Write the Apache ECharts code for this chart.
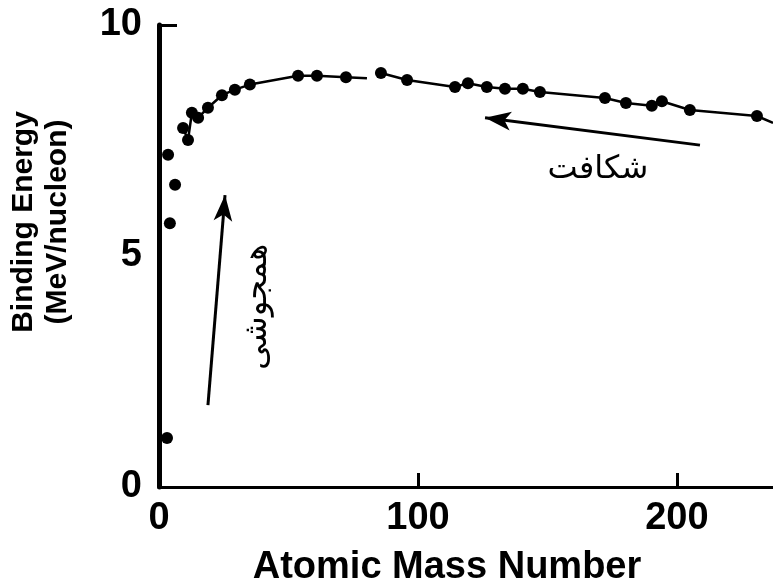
<!DOCTYPE html>
<html>
<head>
<meta charset="utf-8">
<script src="https://cdn.jsdelivr.net/npm/echarts@6/dist/echarts.min.js"></script>
<style>
  html, body { margin: 0; padding: 0; background: #fff; }
  #grafica { width: 773px; height: 588px; }
</style>
</head>
<body>
<div id="grafica"></div>
<script>
// Núcleos ligeros (puntos sueltos, sin línea)
var masaLigeros = [3.1, 4.2, 6.2, 3.5];
var energiaLigeros = [1.06, 5.71, 6.54, 7.19];

// Primer tramo de la curva
var masaCurva1 = [9.3, 11.2, 12.7, 15.1, 18.9, 24.3, 29.3, 35.1, 53.7, 61.0, 72.2];
var energiaCurva1 = [7.77, 7.51, 8.10, 7.99, 8.21, 8.48, 8.60, 8.71, 8.90, 8.90, 8.87];
var finCurva1 = [80.3, 8.85]; // la línea sigue un poco sin marcador

// Segundo tramo de la curva
var masaCurva2 = [85.7, 95.8, 114.3, 119.3, 126.6, 133.6, 140.5, 147.1, 172.2, 180.3, 190.3, 194.2, 205.0, 230.9];
var energiaCurva2 = [8.96, 8.81, 8.66, 8.74, 8.66, 8.62, 8.62, 8.55, 8.42, 8.31, 8.25, 8.35, 8.16, 8.03];
var finCurva2 = [237.1, 7.88];

// Flechas [cola, punta]
var flechaFision = [[208.9, 7.40], [125.9, 7.99]];
var flechaFusion = [[18.9, 1.77], [25.5, 6.32]];

// Textos en persa y su posición en datos
var textoFision = 'شکافت';
var posFision = [169.5, 6.86];
var textoFusion = 'همجوشی';
var posFusion = [38.2, 3.9];

// Ejes
var ticksX = [0, 100, 200];
var ticksY = [0, 5, 10];

function armarCurva(masas, energias, fin) {
  var datos = masas.map(function (a, i) {
    return [a, energias[i]];
  });
  datos.push({ value: fin, symbol: 'none' });
  return datos;
}

var fuente = '"Liberation Sans", Arial, sans-serif';
var chart = echarts.init(document.getElementById('grafica'));

var option = {
  animation: false,
  backgroundColor: '#fff',
  grid: { left: 159, right: 0, top: 25, bottom: 101 },
  xAxis: {
    type: 'value',
    min: 0,
    max: 237.1,
    interval: 100,
    axisLine: { lineStyle: { color: '#000', width: 3 } },
    axisTick: { show: true, inside: true, length: 14, customValues: [100, 200], lineStyle: { color: '#000', width: 3 } },
    axisLabel: { customValues: ticksX, margin: 13, fontFamily: fuente, fontWeight: 'bold', fontSize: 38, color: '#000' },
    splitLine: { show: false },
  },
  yAxis: {
    type: 'value',
    min: 0,
    max: 10,
    interval: 5,
    axisLine: { show: true, lineStyle: { color: '#000', width: 5 } },
    axisTick: { show: true, inside: true, length: 18, customValues: [10], lineStyle: { color: '#000', width: 3 } },
    axisLabel: { customValues: ticksY, margin: 17, fontFamily: fuente, fontWeight: 'bold', fontSize: 38, color: '#000' },
    splitLine: { show: false },
  },
  series: [
    {
      name: 'ligeros',
      type: 'scatter',
      data: masaLigeros.map(function (a, i) { return [a, energiaLigeros[i]]; }),
      symbol: 'circle',
      symbolSize: 12,
      itemStyle: { color: '#000', opacity: 1 },
      markLine: {
        silent: true,
        symbol: ['none', 'arrow'],
        symbolSize: [14, 26],
        label: { show: false },
        lineStyle: { color: '#000', width: 3, type: 'solid', opacity: 1 },
        data: [
          [{ coord: flechaFision[0] }, { coord: flechaFision[1] }],
          [{ coord: flechaFusion[0] }, { coord: flechaFusion[1] }],
        ],
      },
    },
    {
      name: 'curva1',
      type: 'line',
      data: armarCurva(masaCurva1, energiaCurva1, finCurva1),
      symbol: 'circle',
      symbolSize: 12,
      itemStyle: { color: '#000' },
      lineStyle: { color: '#000', width: 2.5 },
    },
    {
      name: 'curva2',
      type: 'line',
      data: armarCurva(masaCurva2, energiaCurva2, finCurva2),
      symbol: 'circle',
      symbolSize: 12,
      itemStyle: { color: '#000' },
      lineStyle: { color: '#000', width: 2.5 },
    },
  ],
};

chart.setOption(option);

// Textos: títulos de los ejes y anotaciones en persa
var pFision = chart.convertToPixel({ gridIndex: 0 }, posFision);
var pFusion = chart.convertToPixel({ gridIndex: 0 }, posFusion);

chart.setOption({
  graphic: [
    {
      type: 'text', x: 447, y: 568,
      style: { text: 'Atomic Mass Number', font: 'bold 38px ' + fuente, fill: '#000', align: 'center', verticalAlign: 'middle' },
    },
    {
      type: 'text', x: 24, y: 222, rotation: Math.PI / 2,
      style: { text: 'Binding Energy', font: 'bold 30px ' + fuente, fill: '#000', align: 'center', verticalAlign: 'middle' },
    },
    {
      type: 'text', x: 58, y: 222, rotation: Math.PI / 2,
      style: { text: '(MeV/nucleon)', font: 'bold 30px ' + fuente, fill: '#000', align: 'center', verticalAlign: 'middle' },
    },
    {
      type: 'text', x: pFision[0], y: pFision[1],
      style: { text: textoFision, font: '32px "DejaVu Sans"', fill: '#000', align: 'center', verticalAlign: 'middle' },
    },
    {
      type: 'text', x: pFusion[0], y: pFusion[1], rotation: Math.PI / 2,
      style: { text: textoFusion, font: '32px "DejaVu Sans"', fill: '#000', align: 'center', verticalAlign: 'middle' },
    },
  ],
});
</script>
</body>
</html>
